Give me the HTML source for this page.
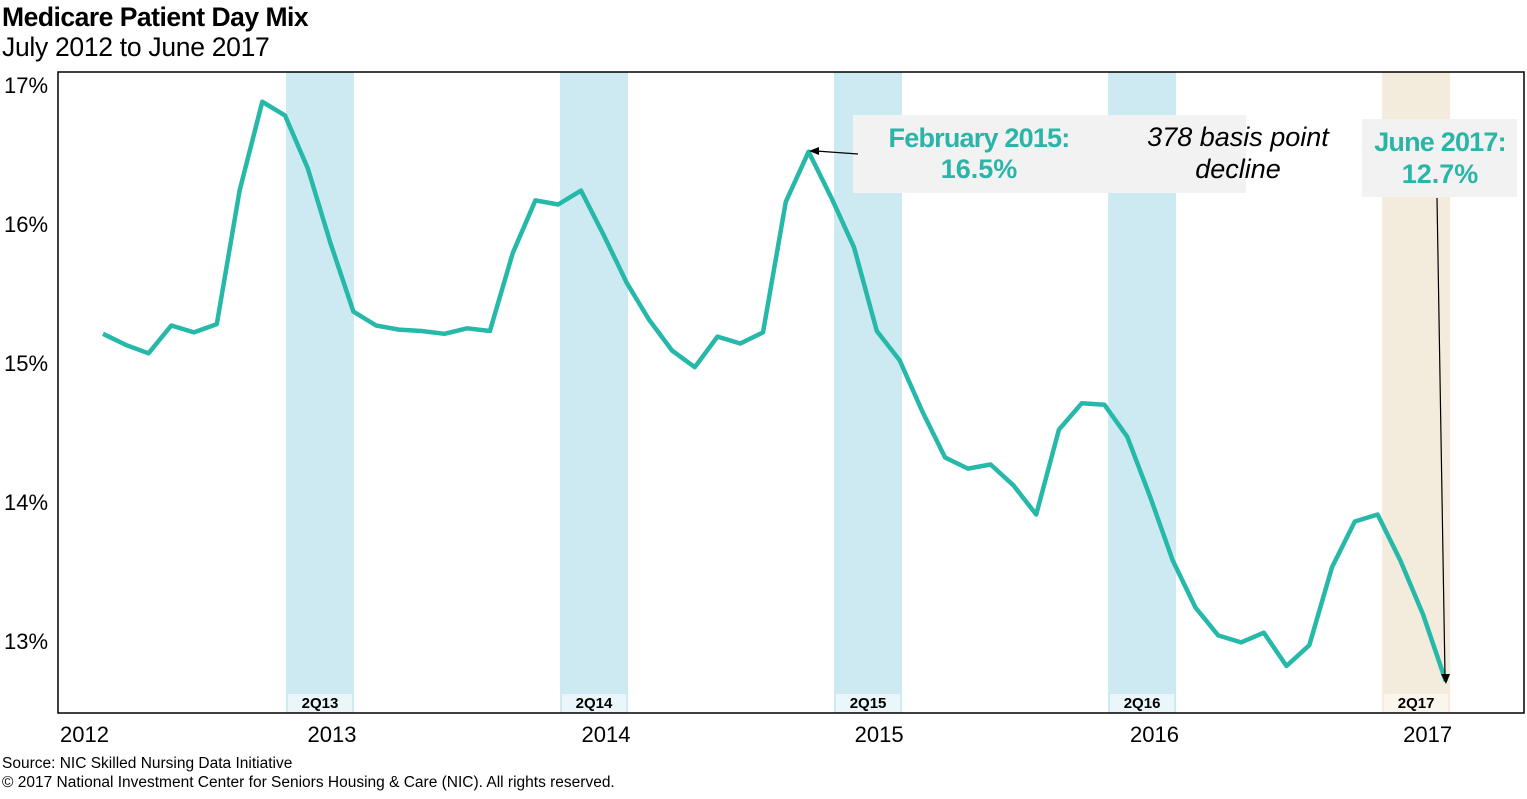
<!DOCTYPE html>
<html><head><meta charset="utf-8"><style>
body{margin:0;background:#fff;font-family:"Liberation Sans",Arial,sans-serif;}
svg text{font-family:"Liberation Sans",Arial,sans-serif;}
</style></head><body>
<svg id="chart" width="1527" height="794" xmlns="http://www.w3.org/2000/svg">
<text x="2" y="26" font-size="26.5" font-weight="bold" letter-spacing="-0.5">Medicare Patient Day Mix</text>
<text x="2" y="56" font-size="26.5" letter-spacing="-0.3">July 2012 to June 2017</text>
<g id="bands"></g>
<rect x="58" y="72" width="1466" height="641" fill="none" stroke="#000" stroke-width="1.5"/>
<g id="yaxis"></g><g id="xaxis"></g>
<polyline id="line" fill="none" stroke="#26b8a8" stroke-width="4.5" stroke-linejoin="round"/>
<g>
<rect x="853" y="115" width="393" height="78" fill="#f2f2f2"/>
<text x="979" y="147" font-size="27" font-weight="bold" fill="#2bb5a8" text-anchor="middle" letter-spacing="-0.8">February 2015:</text>
<text x="979" y="178" font-size="27" font-weight="bold" fill="#2bb5a8" text-anchor="middle">16.5%</text>
<text x="1238" y="146" font-size="27" font-style="italic" text-anchor="middle">378 basis point</text>
<text x="1238" y="178" font-size="27" font-style="italic" text-anchor="middle">decline</text>
<rect x="1362" y="119" width="155" height="78" fill="#f2f2f2"/>
<text x="1440" y="151" font-size="27" font-weight="bold" fill="#2bb5a8" text-anchor="middle" letter-spacing="-0.8">June 2017:</text>
<text x="1440" y="183" font-size="27" font-weight="bold" fill="#2bb5a8" text-anchor="middle">12.7%</text>
<line x1="858" y1="154" x2="816" y2="151" stroke="#000" stroke-width="1.2"/>
<polygon points="809,151 819,147 819,155"/>
<line x1="1437" y1="198" x2="1445" y2="676" stroke="#000" stroke-width="1.2"/>
<polygon points="1446,684 1441,674 1450,674"/>
</g>
<text x="2" y="768" font-size="15.5">Source: NIC Skilled Nursing Data Initiative</text>
<text x="2" y="787" font-size="15.5">© 2017 National Investment Center for Seniors Housing &amp; Care (NIC). All rights reserved.</text>
</svg>
<script>
const values=[15.21,15.13,15.07,15.27,15.22,15.28,16.24,16.88,16.78,16.40,15.86,15.37,
15.27,15.24,15.23,15.21,15.25,15.23,15.79,16.17,16.14,16.24,15.92,15.58,
15.31,15.09,14.97,15.19,15.14,15.22,16.16,16.52,16.19,15.83,15.23,15.02,
14.65,14.32,14.24,14.27,14.12,13.91,14.52,14.71,14.70,14.47,14.04,13.58,
13.24,13.04,12.99,13.06,12.82,12.97,13.53,13.86,13.91,13.58,13.19,12.71];
const yTicks=[13,14,15,16,17];
const yTickLabels=["13%","14%","15%","16%","17%"];
const bandStarts=[8.04,20.08,32.12,44.16,56.2];
const bandLabels=["2Q13","2Q14","2Q15","2Q16","2Q17"];
const yearIdx=[-0.8,10.06,22.1,34.1,46.2,58.2];
const yearLabels=["2012","2013","2014","2015","2016","2017"];
const NS="http://www.w3.org/2000/svg";
const x=i=>103+i*22.76;
const y=v=>641-(v-13)*139;
function mk(tag,attrs,parent,txt){const e=document.createElementNS(NS,tag);for(const k in attrs)e.setAttribute(k,attrs[k]);if(txt!==undefined)e.textContent=txt;parent.appendChild(e);return e;}
const bands=document.getElementById('bands');
bandStarts.forEach((s,k)=>{
 const last=k===bandStarts.length-1;
 const r=mk('rect',{x:x(s),y:72,width:68,height:641,fill:last?'#f3ebdc':'#cdeaf2'},bands);
 
 
 const lb=mk('rect',{x:x(s)+2,y:694,width:64,height:18,fill:last?'#faf6ee':'#eaf6fa'},bands);
 
 
 const t=mk('text',{x:x(s)+34,y:708,'font-size':15,'font-weight':'bold','text-anchor':'middle'},bands,bandLabels[k]);
 
 
});
const ya=document.getElementById('yaxis');
yTicks.forEach((v,k)=>{
 const t=mk('text',{x:4,y:y(v)+8,'font-size':22},ya,yTickLabels[k]);
 
 
});
const xa=document.getElementById('xaxis');
yearIdx.forEach((i,k)=>{
 const t=mk('text',{x:k===0?60:x(i),y:742,'font-size':22,'text-anchor':k===0?'start':'middle'},xa,yearLabels[k]);
 
 
});
document.getElementById('line').setAttribute('points',values.map((v,i)=>x(i).toFixed(1)+','+y(v).toFixed(1)).join(' '));
</script>
</body></html>
